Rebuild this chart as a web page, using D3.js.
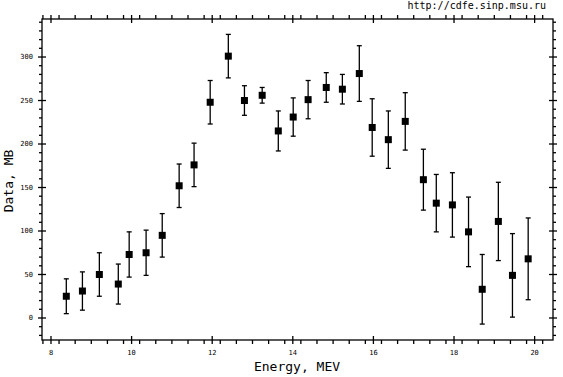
<!DOCTYPE html>
<html><head><meta charset="utf-8">
<script src="https://cdn.jsdelivr.net/npm/d3@7"></script>
<style>
html,body{margin:0;padding:0;background:#fff;}
svg{display:block;}
</style></head>
<body>
<script>
const energy = [8.38, 8.78, 9.20, 9.67, 9.94, 10.36, 10.76, 11.18, 11.55, 11.95, 12.40, 12.80, 13.24, 13.64, 14.01, 14.38, 14.83, 15.23, 15.65, 15.97, 16.37, 16.79, 17.24, 17.56, 17.96, 18.36, 18.70, 19.10, 19.45, 19.84];
const values = [25, 31, 50, 39, 73, 75, 95, 152, 176, 248, 301, 250, 256, 215, 231, 251, 265, 263, 281, 219, 205, 226, 159, 132, 130, 99, 33, 111, 49, 68];
const errors = [20, 22, 25, 23, 26, 26, 25, 25, 25, 25, 25, 17, 9, 23, 22, 22, 17, 17, 32, 33, 33, 33, 35, 33, 37, 40, 40, 45, 48, 47];
const xMajorTicks = [8, 10, 12, 14, 16, 18, 20];
const yMajorTicks = [0, 50, 100, 150, 200, 250, 300];
const xTitle = "Energy, MEV";
const yTitle = "Data, MB";
const credit = "http://cdfe.sinp.msu.ru";

const W = 563, H = 377;
const L = 42, R = 553, T = 19, B = 340;
const svg = d3.select("body").append("svg").attr("width", W).attr("height", H);
const x = d3.scaleLinear().domain([7.777, 20.456]).range([L, R]);
const y = d3.scaleLinear().domain([-25.3, 343.7]).range([B, T]);

const xMinor = d3.range(7.8, 20.5, 0.4).filter(v => v >= 7.777 && v <= 20.456 && Math.abs(v/2 - Math.round(v/2)) > 0.01);
const yMinor = d3.range(-20, 343, 10).filter(v => v % 50 !== 0);

const font = "DejaVu Sans Mono, monospace";
const g = svg.append("g").attr("stroke", "#000").attr("stroke-width", 1.3).attr("fill", "none");

// frame
g.append("rect").attr("x", L).attr("y", T).attr("width", R - L).attr("height", B - T);

// major ticks crossing
xMajorTicks.forEach(v => {
  g.append("line").attr("x1", x(v)).attr("x2", x(v)).attr("y1", B - 4).attr("y2", B + 4);
  g.append("line").attr("x1", x(v)).attr("x2", x(v)).attr("y1", T - 4).attr("y2", T + 4);
});
yMajorTicks.forEach(v => {
  g.append("line").attr("y1", y(v)).attr("y2", y(v)).attr("x1", L - 4).attr("x2", L + 4);
  g.append("line").attr("y1", y(v)).attr("y2", y(v)).attr("x1", R - 4).attr("x2", R + 4);
});
// minor ticks outside
xMinor.forEach(v => {
  g.append("line").attr("x1", x(v)).attr("x2", x(v)).attr("y1", B).attr("y2", B + 4);
  g.append("line").attr("x1", x(v)).attr("x2", x(v)).attr("y1", T - 4).attr("y2", T);
});
yMinor.forEach(v => {
  g.append("line").attr("y1", y(v)).attr("y2", y(v)).attr("x1", L - 3).attr("x2", L);
  g.append("line").attr("y1", y(v)).attr("y2", y(v)).attr("x1", R).attr("x2", R + 3);
});

// tick labels
svg.append("g").selectAll("text").data(xMajorTicks).join("text")
  .attr("x", d => x(d)).attr("y", 355).attr("text-anchor", "middle")
  .attr("font-family", font).attr("font-size", 7).text(d => d);
svg.append("g").selectAll("text").data(yMajorTicks).join("text")
  .attr("x", 33).attr("y", d => y(d)).attr("dy", "0.35em").attr("text-anchor", "end")
  .attr("font-family", font).attr("font-size", 7).text(d => d);

// titles
svg.append("text").attr("x", 297).attr("y", 371).attr("text-anchor", "middle")
  .attr("font-family", font).attr("font-size", 13).text(xTitle);
svg.append("text").attr("transform", "translate(13,181) rotate(-90)").attr("text-anchor", "middle")
  .attr("font-family", font).attr("font-size", 13).text(yTitle);
svg.append("text").attr("x", 546).attr("y", 9).attr("text-anchor", "end")
  .attr("font-family", font).attr("font-size", 10).text(credit);

// data
const pts = energy.map((e, i) => ({e, v: values[i], err: errors[i]}));
const eb = svg.append("g").attr("stroke", "#000").attr("stroke-width", 1.3);
pts.forEach(p => {
  const cx = x(p.e);
  eb.append("line").attr("x1", cx).attr("x2", cx).attr("y1", y(p.v + p.err)).attr("y2", y(p.v - p.err));
  eb.append("line").attr("x1", cx - 2.5).attr("x2", cx + 2.5).attr("y1", y(p.v + p.err)).attr("y2", y(p.v + p.err));
  eb.append("line").attr("x1", cx - 2.5).attr("x2", cx + 2.5).attr("y1", y(p.v - p.err)).attr("y2", y(p.v - p.err));
});
svg.append("g").selectAll("rect").data(pts).join("rect")
  .attr("x", d => x(d.e) - 3.5).attr("y", d => y(d.v) - 3.5)
  .attr("width", 7).attr("height", 7).attr("fill", "#000");
</script>
</body></html>
